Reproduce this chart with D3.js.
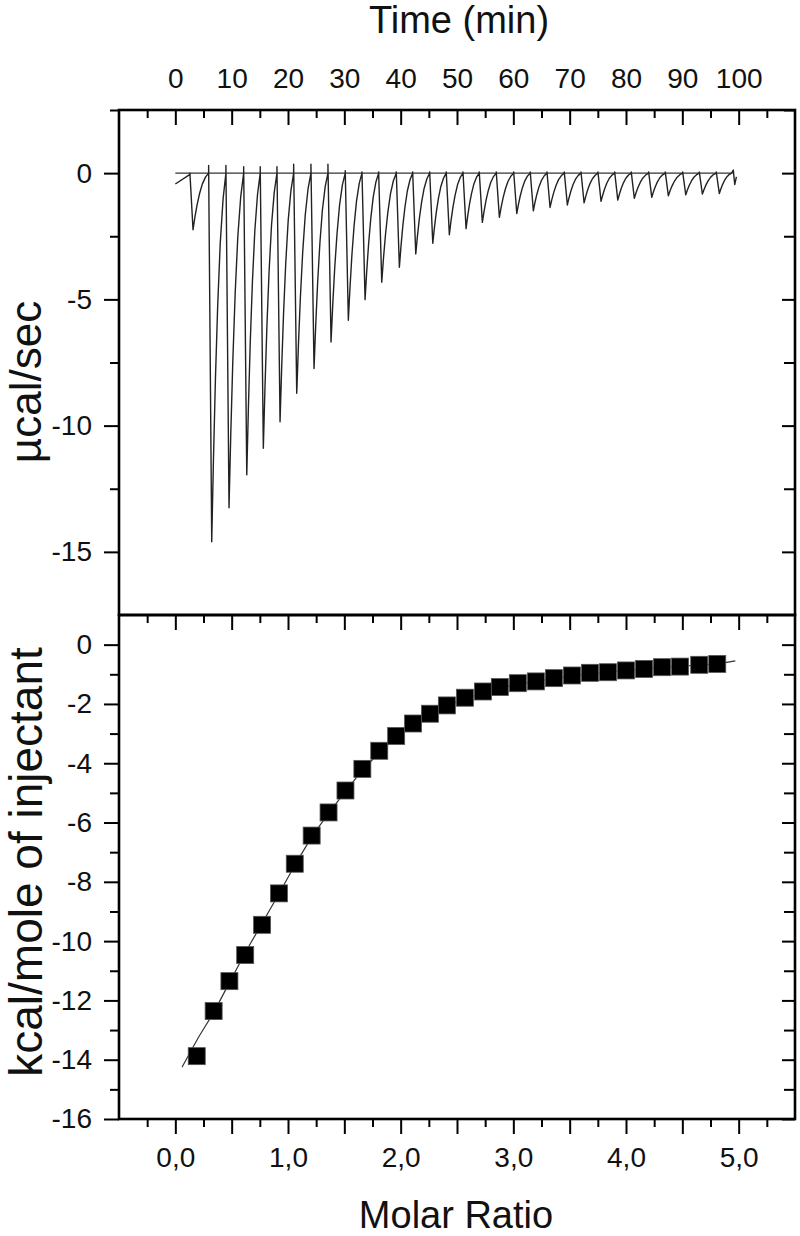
<!DOCTYPE html>
<html>
<head>
<meta charset="utf-8">
<script src="https://cdn.jsdelivr.net/npm/d3@7"></script>
<style>
  body { margin: 0; background: #fff; }
  svg { display: block; font-family: "Liberation Sans", Arial, sans-serif; }
</style>
</head>
<body>
<div id="chart"></div>
<script>
// ---- raw thermogram (top panel) ----
// time (min) of each injection minimum and its depth (µcal/sec)
const peakTime = [3.14, 6.46, 9.53, 12.68, 15.62, 18.59, 21.55, 24.62, 27.64, 30.71,
                  33.68, 36.64, 39.77, 42.68, 45.70, 48.64, 51.61, 54.50, 57.52, 60.61,
                  63.55, 66.52, 69.59, 72.56, 75.57, 78.54, 81.48, 84.57, 87.52, 90.61,
                  93.56, 96.57];
const peakMin = [-2.24, -14.6, -13.25, -11.95, -10.9, -9.85, -8.72, -7.74, -6.69, -5.83,
                 -5.01, -4.32, -3.73, -3.2, -2.78, -2.44, -2.2, -1.95, -1.75, -1.6,
                 -1.49, -1.36, -1.26, -1.18, -1.12, -1.07, -1.0, -0.96, -0.9, -0.86,
                 -0.83, -0.81];
// small overshoot just before each injection
const peakTop = [0, 0.3, 0.3, 0.25, 0.25, 0.25, 0.35, 0.35, 0.35, 0.1,
                 0.05, 0.05, 0.05, 0.05, 0.05, 0.05, 0.05, 0.05, 0.05, 0.05,
                 0.05, 0.05, 0.05, 0.05, 0.05, 0.05, 0.05, 0.05, 0.05, 0.05,
                 0.05, 0.05];
// how the signal comes back to baseline (fraction of gap, fraction of depth)
const recoveryFrac = [0, 0.12, 0.26, 0.42, 0.6, 0.8, 1];
const recoveryLevel = [1, 0.78, 0.56, 0.36, 0.19, 0.07, 0];
const dropTime = 0.55;
// pieces before the first and after the last injection
const leadTime = [0, 2.6];
const leadValue = [-0.43, -0.05];
const tailTime = [98.75, 99.05, 99.3, 99.6];
const tailValue = [0, 0.12, -0.45, -0.15];
const baselineTime = [0, 98.9];

// ---- integrated heats (bottom panel) ----
const molarRatio = [0.19, 0.34, 0.48, 0.62, 0.77, 0.92, 1.06, 1.21, 1.36, 1.51,
                    1.66, 1.81, 1.96, 2.11, 2.26, 2.41, 2.57, 2.73, 2.88, 3.04,
                    3.20, 3.36, 3.52, 3.68, 3.84, 4.00, 4.16, 4.32, 4.48, 4.65, 4.81];
const heat = [-13.88, -12.36, -11.35, -10.47, -9.45, -8.39, -7.39, -6.44, -5.66, -4.92,
              -4.19, -3.58, -3.08, -2.66, -2.33, -2.05, -1.79, -1.58, -1.43, -1.30,
              -1.24, -1.13, -1.04, -0.95, -0.93, -0.87, -0.82, -0.76, -0.74, -0.68, -0.65];
const fitRatio = [0.06, 0.19, 0.34, 0.48, 0.62, 0.77, 0.92, 1.06, 1.21, 1.36, 1.51, 1.66,
                  1.81, 1.96, 2.11, 2.26, 2.41, 2.57, 2.73, 2.88, 3.2, 3.52, 3.84, 4.16,
                  4.48, 4.81, 4.97];
const fitHeat = [-14.25, -13.35, -12.4, -11.4, -10.4, -9.4, -8.4, -7.45, -6.5, -5.7, -4.95, -4.25,
                 -3.65, -3.12, -2.7, -2.35, -2.07, -1.83, -1.63, -1.47, -1.23, -1.06, -0.93, -0.82,
                 -0.73, -0.64, -0.55];

// ---- ticks ----
const timeTicks = [0, 10, 20, 30, 40, 50, 60, 70, 80, 90, 100];
const timeMinor = [-5, 5, 15, 25, 35, 45, 55, 65, 75, 85, 95, 105];
const powerTicks = [0, -5, -10, -15];
const powerMinor = [2.5, -2.5, -7.5, -12.5];
const ratioTicks = [0, 0.5, 1, 1.5, 2, 2.5, 3, 3.5, 4, 4.5, 5];
const ratioMinor = [-0.25, 0.25, 0.75, 1.25, 1.75, 2.25, 2.75, 3.25, 3.75, 4.25, 4.75, 5.25];
const heatTicks = [0, -2, -4, -6, -8, -10, -12, -14, -16];
const heatMinor = [-1, -3, -5, -7, -9, -11, -13, -15];

const W = 800, H = 1236;
const left = 119, right = 795;
const topY0 = 110, midY = 615, botY = 1119;

const svg = d3.select("#chart").append("svg")
    .attr("width", W)
    .attr("height", H);

const xTime = d3.scaleLinear().domain([-10, 110]).range([left, right]);
const yPower = d3.scaleLinear().domain([-17.5, 2.5]).range([midY, topY0]);
const xRatio = d3.scaleLinear().domain([-0.5, 5.5]).range([left, right]);
const yHeat = d3.scaleLinear().domain([-16, 1]).range([botY, midY]);

const tickFont = 28;
// plain hyphen for negatives, like the original
const plain = d => String(d);

function styleAxis(g) {
    g.select(".domain").remove();
    g.selectAll(".tick line").attr("stroke", "#000").attr("stroke-width", 2);
    g.selectAll(".tick text")
        .attr("fill", "#111")
        .style("font-size", tickFont + "px")
        .style("font-family", '"Liberation Sans", Arial, sans-serif');
}

function addAxis(axis, x, y) {
    svg.append("g")
        .attr("transform", `translate(${x},${y})`)
        .call(axis)
        .call(styleAxis);
}

// ---- top panel axes ----
addAxis(d3.axisTop(xTime).tickValues(timeTicks).tickSize(-15).tickPadding(22).tickFormat(plain), 0, topY0);
addAxis(d3.axisTop(xTime).tickValues(timeMinor).tickSize(-8).tickFormat(""), 0, topY0);
addAxis(d3.axisLeft(yPower).tickValues(powerTicks).tickSize(15).tickPadding(12).tickFormat(plain), left, 0);
addAxis(d3.axisLeft(yPower).tickValues(powerMinor).tickSize(9).tickFormat(""), left, 0);
addAxis(d3.axisRight(yPower).tickValues(powerTicks).tickSize(-13).tickFormat(""), right, 0);
addAxis(d3.axisRight(yPower).tickValues(powerMinor).tickSize(-11).tickFormat(""), right, 0);

// ---- bottom panel axes ----
const commaFmt = d => Number.isInteger(d) ? d3.format(".1f")(d).replace(".", ",") : "";
addAxis(d3.axisTop(xRatio).tickValues(ratioTicks).tickSize(-15).tickFormat(""), 0, midY);
addAxis(d3.axisTop(xRatio).tickValues(ratioMinor).tickSize(-8).tickFormat(""), 0, midY);
addAxis(d3.axisBottom(xRatio).tickValues(ratioTicks).tickSize(15).tickPadding(13).tickFormat(commaFmt), 0, botY);
addAxis(d3.axisBottom(xRatio).tickValues(ratioMinor).tickSize(8).tickFormat(""), 0, botY);
addAxis(d3.axisLeft(yHeat).tickValues(heatTicks).tickSize(15).tickPadding(12).tickFormat(plain), left, 0);
addAxis(d3.axisLeft(yHeat).tickValues(heatMinor).tickSize(9).tickFormat(""), left, 0);
addAxis(d3.axisRight(yHeat).tickValues(heatTicks).tickSize(-13).tickFormat(""), right, 0);
addAxis(d3.axisRight(yHeat).tickValues(heatMinor).tickSize(-11).tickFormat(""), right, 0);

// ---- thermogram trace ----
const trace = leadTime.map((t, i) => [t, leadValue[i]]);
peakTime.forEach((tm, i) => {
    const onset = tm - dropTime;
    const next = i < peakTime.length - 1 ? peakTime[i + 1] - dropTime : tailTime[0];
    trace.push([onset, peakTop[i]]);
    trace.push([tm, peakMin[i]]);
    recoveryFrac.slice(1).forEach((f, j) => {
        trace.push([tm + f * (next - tm), peakMin[i] * recoveryLevel[j + 1]]);
    });
});
tailTime.forEach((t, i) => trace.push([t, tailValue[i]]));

const powerLine = d3.line()
    .x(d => xTime(d[0]))
    .y(d => yPower(d[1]));

svg.append("path")
    .datum(baselineTime.map(t => [t, 0]))
    .attr("fill", "none")
    .attr("stroke", "#333")
    .attr("stroke-width", 1.2)
    .attr("d", powerLine);

svg.append("path")
    .datum(trace)
    .attr("fill", "none")
    .attr("stroke", "#222")
    .attr("stroke-width", 1.4)
    .attr("stroke-linejoin", "round")
    .attr("d", powerLine);

// ---- binding isotherm ----
const fitLine = d3.line()
    .x((d, i) => xRatio(fitRatio[i]))
    .y(d => yHeat(d))
    .curve(d3.curveMonotoneX);

svg.append("path")
    .datum(fitHeat)
    .attr("fill", "none")
    .attr("stroke", "#333")
    .attr("stroke-width", 1.2)
    .attr("d", fitLine);

const sq = 17;
svg.append("g")
    .selectAll("rect")
    .data(heat)
    .enter().append("rect")
    .attr("x", (d, i) => xRatio(molarRatio[i]) - sq / 2)
    .attr("y", d => yHeat(d) - sq / 2)
    .attr("width", sq)
    .attr("height", sq)
    .attr("fill", "#000")
    .attr("stroke", "#555")
    .attr("stroke-width", 0.8);

// ---- frames ----
[[topY0, midY], [midY, botY]].forEach(([y0, y1]) => {
    svg.append("rect")
        .attr("x", left)
        .attr("y", y0)
        .attr("width", right - left)
        .attr("height", y1 - y0)
        .attr("fill", "none")
        .attr("stroke", "#000")
        .attr("stroke-width", 2.6);
});

// ---- titles ----
svg.append("text")
    .attr("x", 459)
    .attr("y", 33)
    .attr("text-anchor", "middle")
    .style("font-size", "38px")
    .attr("fill", "#111")
    .text("Time (min)");

svg.append("text")
    .attr("x", 456)
    .attr("y", 1228)
    .attr("text-anchor", "middle")
    .style("font-size", "38px")
    .attr("fill", "#111")
    .text("Molar Ratio");

svg.append("text")
    .attr("transform", "translate(41,382) rotate(-90)")
    .attr("text-anchor", "middle")
    .style("font-size", "44px")
    .attr("fill", "#111")
    .text("µcal/sec");

svg.append("text")
    .attr("transform", "translate(42,862) rotate(-90)")
    .attr("text-anchor", "middle")
    .style("font-size", "46px")
    .attr("fill", "#111")
    .text("kcal/mole of injectant");
</script>
</body>
</html>
